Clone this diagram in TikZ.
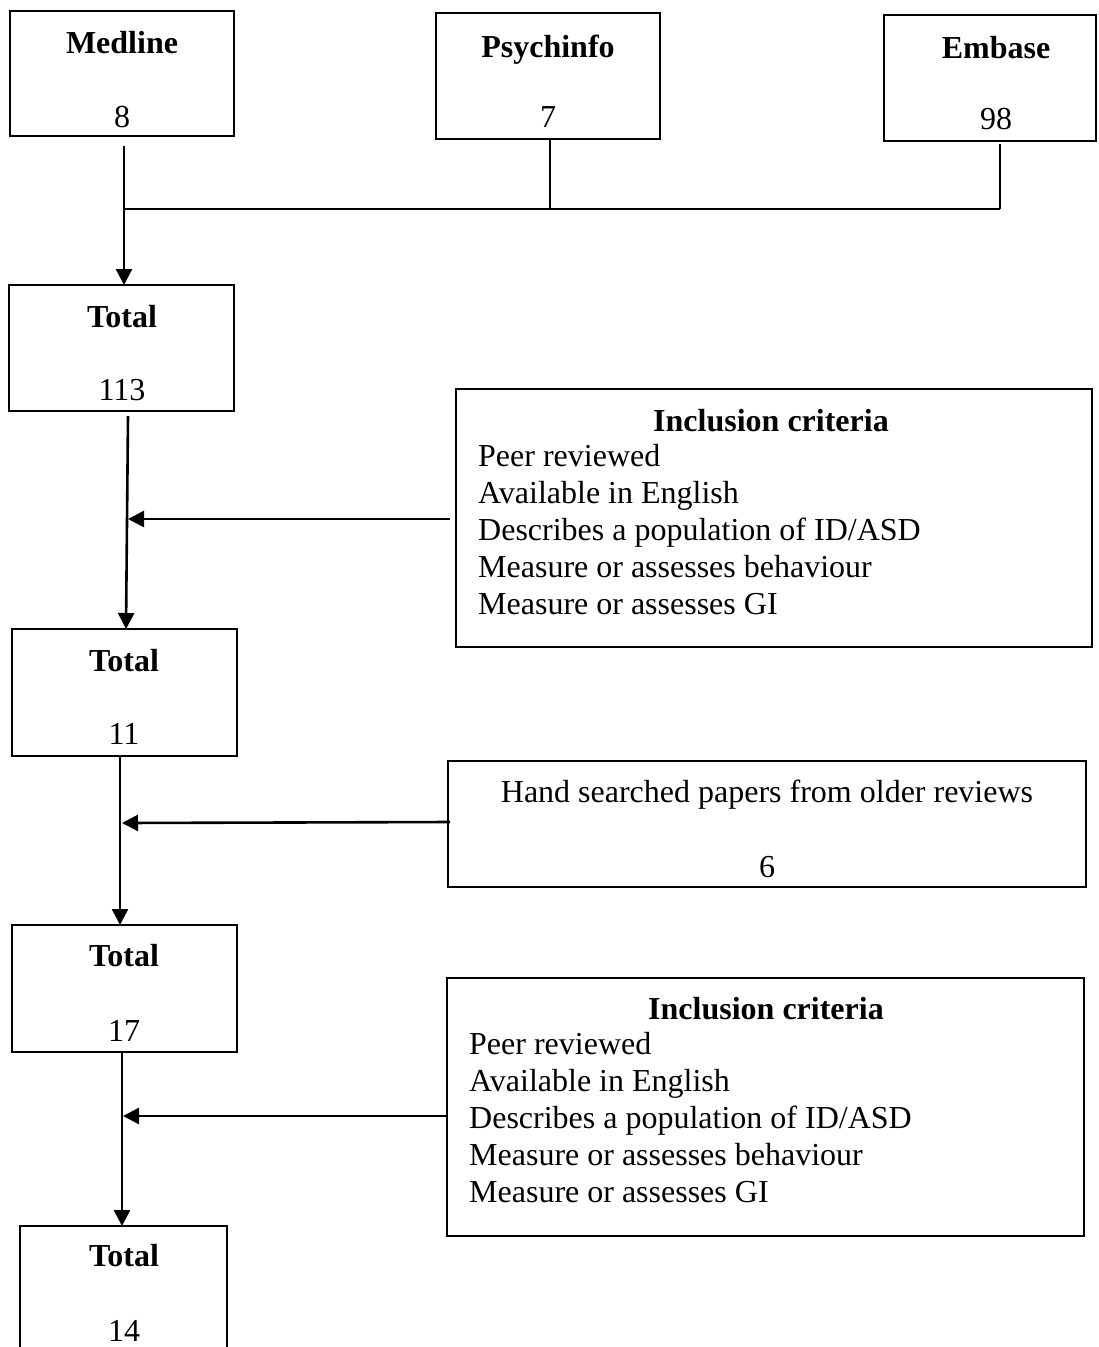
\documentclass[tikz,border=0pt]{standalone}
\usepackage{fontspec}
\setmainfont{Liberation Serif}
\usetikzlibrary{arrows.meta,calc}
\begin{document}
\begin{tikzpicture}[x=1pt,y=-1pt,
  every node/.style={font=\fontsize{32}{37}\selectfont, inner sep=0pt},
  box/.style={draw, line width=2.7pt},
  ttl/.style={anchor=base, font=\fontsize{32}{37}\selectfont\bfseries},
  num/.style={anchor=base},
  item/.style={anchor=base west},
  link/.style={line width=2.6pt},
  arr/.style={line width=2.6pt, -{Triangle[length=16pt,width=16pt]}}]
\useasboundingbox (0,0) rectangle (1098,1347);
\begin{scope}
\clip (0,0) rectangle (1098,1347);
% boxes
\draw[box] (10,11) rectangle (234,136);   \coordinate (medlineS) at (124,136);
\draw[box] (436,13) rectangle (660,139);  \coordinate (psychS) at (550,139);
\draw[box] (884,15) rectangle (1096,141); \coordinate (embaseS) at (1000,141);
\draw[box] (9,285) rectangle (234,411);   \coordinate (tot1N) at (124,285); \coordinate (tot1S) at (128,411);
\draw[box] (456,389) rectangle (1092,647);\coordinate (crit1W) at (456,519);
\draw[box] (12,629) rectangle (237,756);  \coordinate (tot2N) at (126,629); \coordinate (tot2S) at (120,756);
\draw[box] (448,761) rectangle (1086,887);\coordinate (handW) at (448,823);
\draw[box] (12,925) rectangle (237,1052); \coordinate (tot3N) at (120,925); \coordinate (tot3S) at (122,1052);
\draw[box] (447,978) rectangle (1084,1236);\coordinate (crit2W) at (447,1116);
\draw[box] (20,1226) rectangle (227,1380); \coordinate (tot4N) at (122,1226);
\end{scope}
% texts
\node[ttl] (tMed) at (122,53) {Medline};
\node[num] (nMed) at (122,127) {8};
\node[ttl] (tPsy) at (548,57) {Psychinfo};
\node[num] (nPsy) at (548,127) {7};
\node[ttl] (tEmb) at (996,58) {Embase};
\node[num] (nEmb) at (996,129) {98};
\node[ttl] (tT1) at (122,327) {Total};
\node[num] (nT1) at (122,400) {113};
\node[ttl] (tT2) at (124,671) {Total};
\node[num] (nT2) at (124,744) {11};
\node[ttl] (tT3) at (124,966) {Total};
\node[num] (nT3) at (124,1041) {17};
\node[ttl] (tT4) at (124,1266) {Total};
\node[num] (nT4) at (124,1341) {14};
\node[ttl] (tC1) at (771,431) {Inclusion criteria};
\node[item] (c1a) at (478,466) {Peer reviewed};
\node[item] (c1b) at (478,503) {Available in English};
\node[item] (c1c) at (478,540) {Describes a population of ID/ASD};
\node[item] (c1d) at (478,577) {Measure or assesses behaviour};
\node[item] (c1e) at (478,614) {Measure or assesses GI};
\node[num] (tHand) at (767,802) {Hand searched papers from older reviews};
\node[num] (nHand) at (767,877) {6};
\node[ttl] (tC2) at (766,1019) {Inclusion criteria};
\node[item] (c2a) at (469,1054) {Peer reviewed};
\node[item] (c2b) at (469,1091) {Available in English};
\node[item] (c2c) at (469,1128) {Describes a population of ID/ASD};
\node[item] (c2d) at (469,1165) {Measure or assesses behaviour};
\node[item] (c2e) at (469,1202) {Measure or assesses GI};
% connectors
\coordinate (j1) at (124,209);
\coordinate (j2) at (550,209);
\coordinate (j3) at (1000,209);
\draw[arr] ($(medlineS)+(0,10)$) -- (tot1N);
\draw[link] (psychS) -- (j2);
\draw[link] ($(embaseS)+(0,3)$) -- (j3);
\draw[link] (j1) -- (j3);
\draw[arr] ($(tot1S)+(0,5)$) -- (tot2N);
\draw[arr] ($(crit1W)+(-6,0)$) -- (128,519);
\draw[arr] (tot2S) -- (tot3N);
\draw[arr] ($(handW)+(2,-1)$) -- (122,823);
\draw[arr] (tot3S) -- (tot4N);
\draw[arr] ($(crit2W)+(-1,0)$) -- (123,1116);
\end{tikzpicture}
\end{document}
